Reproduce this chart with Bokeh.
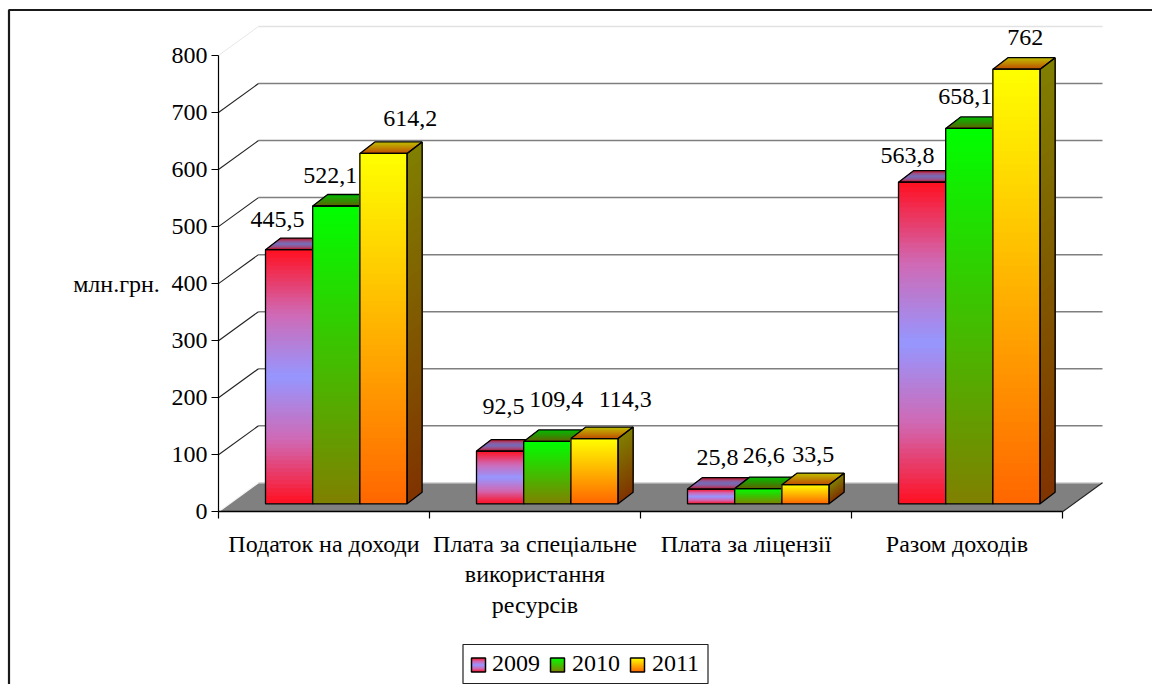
from bokeh.plotting import figure
from bokeh.models import Range1d, LinearAxis, FixedTicker, Legend, LegendItem
from bokeh.core.properties import value
from bokeh.embed import file_html
from bokeh.resources import INLINE

# ---- data
categories = ["Податок на доходи", "Плата за спеціальне\nвикористання\nресурсів", "Плата за ліцензії", "Разом доходів"]
years = ["2009", "2010", "2011"]
v2009 = [445.5, 92.5, 25.8, 563.8]
v2010 = [522.1, 109.4, 26.6, 658.1]
v2011 = [614.2, 114.3, 33.5, 762]
y_ticks = [0, 100, 200, 300, 400, 500, 600, 700, 800]
y_title = "млн.грн."

# ---- layout (picture pixels)
W, H = 1152, 684
X0, SX = 218.0, 211.0      # px of category 0, px per category
Y0, SY = 511.3, 0.5704     # px of value 0, px per value
FONT = "Liberation Serif"
FS = "24px"

def ux(dx): return dx / SX
def uy(dy): return dy / SY
def dxp(px): return (px - X0) / SX
def dyp(py): return (Y0 - py) / SY

p = figure(width=W, height=H, output_backend="svg", toolbar_location=None, min_border=0,
           x_range=Range1d(dxp(0), dxp(W)), y_range=Range1d(dyp(H), dyp(0)),
           x_axis_type=None, y_axis_type=None)
p.outline_line_color = None
p.grid.visible = False
p.background_fill_color = "white"
p.border_fill_color = "white"

# outer border: left and top only are in view
p.line([dxp(8.5), dxp(8.5), dxp(W)], [dyp(H), dyp(9.5), dyp(9.5)], line_color="#1a1a1a", line_width=2.2)

# 3D box
WALL_DX, WALL_DY = ux(40), uy(29)
n_cat = len(categories)
p.patch([0, WALL_DX, n_cat + WALL_DX, n_cat], [0, WALL_DY, WALL_DY, 0], fill_color="#808080", line_color=None)
grid_vals = y_ticks[1:-1]
p.segment(x0=[WALL_DX] * len(grid_vals), x1=[n_cat + WALL_DX] * len(grid_vals),
          y0=[t + WALL_DY for t in grid_vals], y1=[t + WALL_DY for t in grid_vals],
          line_color="#7f7f7f", line_width=1.5)
p.segment(x0=[WALL_DX], x1=[n_cat + WALL_DX], y0=[WALL_DY], y1=[WALL_DY], line_color="#d8d8d8", line_width=1.5)
p.segment(x0=[WALL_DX], x1=[n_cat + WALL_DX], y0=[y_ticks[-1] + WALL_DY], y1=[y_ticks[-1] + WALL_DY],
          line_color="#e2e2e2", line_width=1.5)
p.segment(x0=[0] * len(grid_vals), x1=[WALL_DX] * len(grid_vals), y0=grid_vals,
          y1=[t + WALL_DY for t in grid_vals], line_color="#222222", line_width=1.1)
p.segment(x0=[0], x1=[WALL_DX], y0=[y_ticks[-1]], y1=[y_ticks[-1] + WALL_DY], line_color="#e6e6e6", line_width=1)
p.segment(x0=[0], x1=[WALL_DX], y0=[0], y1=[WALL_DY], line_color="#f4f4f4", line_width=1.2)
p.segment(x0=[n_cat], x1=[n_cat + WALL_DX], y0=[0], y1=[WALL_DY], line_color="#222222", line_width=1.1)

# gradients: evenly spaced stops from bottom to top
GRAD = [
    [(255, 16, 32), (208, 105, 180), (150, 150, 255), (208, 105, 180), (255, 16, 32)],
    [(128, 128, 0), (0, 255, 0)],
    [(255, 102, 0), (255, 255, 0)],
]

def grad(stops, t, k=1.0):
    pos = t * (len(stops) - 1)
    i = min(int(pos), len(stops) - 2)
    f = pos - i
    c = [(stops[i][j] + (stops[i + 1][j] - stops[i][j]) * f) * k for j in range(3)]
    return "#%02x%02x%02x" % tuple(int(round(q)) for q in c)

BAR_OFF, BAR_W = ux(47), ux(47.2)
BASE = uy(8)
DX, DY = ux(15), uy(11.5)
NF, NS, NT = 64, 64, 10
series = [v2009, v2010, v2011]

for s, vals in enumerate(series):
    stops = GRAD[s]
    side_x, side_y, side_c = [], [], []
    top_x, top_y, top_c = [], [], []
    fl, fr, fb, ft, fc = [], [], [], [], []
    ol_x, ol_y = [], []
    for c, v in enumerate(vals):
        x0 = c + BAR_OFF + s * BAR_W
        x1 = x0 + BAR_W
        yb, yt = BASE, BASE + v
        for i in range(NS):
            t = i / NS
            y = yb + (yt - yb) * t
            side_x.append([x1, x1 + DX, x1 + DX, x1])
            side_y.append([y, y + DY, yt + DY, yt])
            side_c.append(grad(stops, t + 0.5 / NS, 0.5))
        for i in range(NT):
            t = i / NT
            side = DY * t
            top_x.append([x0 + DX * t, x1 + DX * t, x1 + DX, x0 + DX])
            top_y.append([yt + side, yt + side, yt + DY, yt + DY])
            top_c.append(grad(stops, t + 0.5 / NT, 0.75))
        for i in range(NF):
            t = i / NF
            fl.append(x0); fr.append(x1)
            fb.append(yb + (yt - yb) * t); ft.append(yt)
            fc.append(grad(stops, t + 0.5 / NF))
        ol_x += [[x1, x1 + DX, x1 + DX, x1], [x0, x1, x1 + DX, x0 + DX], [x0, x1, x1, x0]]
        ol_y += [[yb, yb + DY, yt + DY, yt], [yt, yt, yt + DY, yt + DY], [yb, yb, yt, yt]]
    p.patches(side_x, side_y, fill_color=side_c, line_color=None)
    p.patches(top_x, top_y, fill_color=top_c, line_color=None)
    p.quad(left=fl, right=fr, bottom=fb, top=ft, fill_color=fc, line_color=None)
    p.patches(ol_x, ol_y, fill_color=None, line_color="black", line_width=1.3)

# axes
yax = LinearAxis(fixed_location=0, bounds=(y_ticks[0], y_ticks[-1]), ticker=FixedTicker(ticks=y_ticks),
                 major_tick_out=7, major_tick_in=0, minor_tick_out=0, minor_tick_in=0,
                 major_label_standoff=4, axis_line_color="black", axis_line_width=1.2,
                 major_tick_line_color="black", major_tick_line_width=1.2,
                 major_label_text_font=FONT, major_label_text_font_size=FS, major_label_text_color="black")
p.add_layout(yax, "left")
xt = list(range(n_cat + 1))
xax = LinearAxis(fixed_location=0, bounds=(0, n_cat), ticker=FixedTicker(ticks=xt),
                 major_label_overrides={t: "" for t in xt},
                 major_tick_out=7, major_tick_in=0, minor_tick_out=0, minor_tick_in=0,
                 axis_line_color="black", axis_line_width=1.4, major_tick_line_color="black",
                 major_tick_line_width=1.2)
p.add_layout(xax, "below")

# category labels
p.text(x=[i + 0.5 for i in range(n_cat)], y=[dyp(530)] * n_cat, text=categories,
       text_align="center", text_baseline="top", text_font=value(FONT), text_font_size=FS,
       text_line_height=1.19, text_color="black")
p.text(x=[dxp(116)], y=[dyp(283)], text=[y_title], text_align="center", text_baseline="middle",
       text_font=value(FONT), text_font_size=FS, text_color="black")

# value labels: offset of each label from the top centre of its bar, in px
label_dx = [[-11.6, 3.3, 6.3, -14.7], [-6, 9, 5.5, -4], [26.7, 30.7, 7.7, 8.8]]
label_dy = [[30, 45, 31.3, 26.4], [30, 41.6, 32.8, 31.6], [34.7, 38.8, 29.9, 31.4]]
lx, ly, lt = [], [], []
for s, vals in enumerate(series):
    for c, v in enumerate(vals):
        lx.append(c + BAR_OFF + (s + 0.5) * BAR_W + ux(label_dx[s][c]))
        ly.append(BASE + v + uy(label_dy[s][c]))
        lt.append(str(v).replace(".", ","))
p.text(x=lx, y=ly, text=lt, text_align="center", text_baseline="middle", text_font=value(FONT),
       text_font_size=FS, text_color="black")

# legend box, gradient keys under a see-through legend that sets the labels
p.quad(left=[dxp(462.5)], right=[dxp(707.5)], bottom=[dyp(683)], top=[dyp(644)],
       fill_color="white", line_color="#222222", line_width=1.2)
key_left = [471, 550, 630]
key_top, key_bot = 657.5, 671.5
items = []
for s, yr in enumerate(years):
    n = 14
    p.quad(left=[dxp(key_left[s])] * n, right=[dxp(key_left[s] + 14)] * n,
           bottom=[dyp(key_bot - (key_bot - key_top) * i / n) for i in range(n)],
           top=[dyp(key_top)] * n,
           fill_color=[grad(GRAD[s], (i + 0.5) / n) for i in range(n)], line_color=None)
    p.quad(left=[dxp(key_left[s])], right=[dxp(key_left[s] + 14)], bottom=[dyp(key_bot)], top=[dyp(key_top)],
           fill_color=None, line_color="black", line_width=1.5)
    r = p.quad(left=[dxp(key_left[s])], right=[dxp(key_left[s] + 14)], bottom=[dyp(key_bot)], top=[dyp(key_top)],
               fill_color=None, line_color=None)
    items.append(LegendItem(label=value(yr), renderers=[r]))
legend = Legend(items=items, orientation="horizontal", location=(468, 7), glyph_width=14, glyph_height=14,
                label_standoff=10, spacing=8, margin=0, padding=5, label_height=21,
                label_text_font=FONT, label_text_font_size=FS, label_text_color="black",
                border_line_color=None, background_fill_alpha=0)
p.add_layout(legend, "center")

open("out.html", "w").write(file_html(p, INLINE))
